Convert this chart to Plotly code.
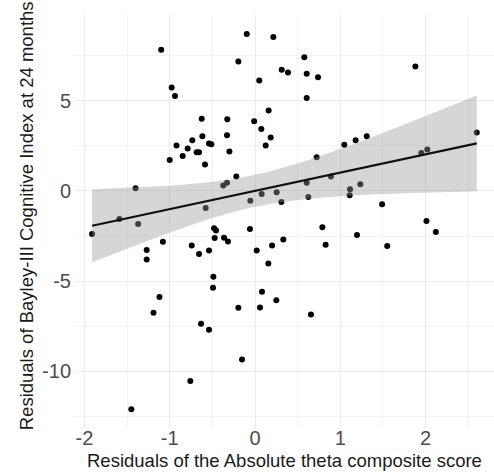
import numpy as np
import plotly.graph_objects as go

# Residuals of the Absolute theta composite score
x_vals = [-1.10, -0.977, -0.938, -0.92, -1.00, -1.40, -1.59, -1.37, -1.91, -1.08,
          -1.27, -1.27, -1.12, -1.19, -1.45, -0.097, 0.215, -0.195, 0.313, 0.05,
          -0.625, -0.325, 0.16, -0.01, 0.074, -0.617, -0.328, 0.184, 0.125, -0.735,
          -0.79, -0.848, -0.684, -0.656, -0.539, -0.512, -0.30, -0.586, -0.219, -0.372,
          -0.328, -0.578, -0.055, 0.078, 0.254, 0.309, -0.48, -0.457, -0.059, -0.742,
          -0.656, -0.539, -0.473, -0.363, -0.317, 0.02, 0.20, 0.332, 0.156, -0.488,
          -0.492, 0.082, 0.25, -0.195, 0.059, -0.633, -0.539, -0.152, -0.758, 0.578,
          0.387, 0.606, 0.739, 0.606, 1.047, 1.18, 1.31, 0.723, 0.606, 0.89,
          0.625, 1.114, 1.235, 1.11, 1.49, 0.79, 0.828, 1.196, 1.55, 0.656,
          1.88, 2.60, 1.95, 2.02, 2.01, 2.12]
# Residuals of Bayley-III Cognitive Index at 24 months
y_vals = [7.83, 5.74, 5.26, 2.52, 1.72, 0.15, -1.56, -1.83, -2.39, -2.82,
          -3.28, -3.80, -5.89, -6.76, -12.11, 8.70, 8.54, 7.18, 6.72, 6.13,
          4.0, 3.98, 4.46, 3.87, 3.44, 3.04, 3.09, 2.96, 2.52, 2.81,
          2.35, 1.94, 2.15, 2.15, 2.63, 2.59, 2.19, 1.46, 0.80, 0.30,
          0.46, -0.94, -0.54, -0.17, -0.07, -0.61, -2.07, -2.19, -2.11, -3.02,
          -3.50, -3.31, -2.61, -2.59, -2.81, -3.31, -3.02, -2.70, -4.02, -4.76,
          -5.37, -5.59, -6.07, -6.48, -6.46, -7.37, -7.70, -9.35, -10.54, 7.41,
          6.57, 6.5, 6.30, 5.15, 2.56, 2.81, 3.04, 1.87, 0.46, 0.80,
          -0.33, 0.09, 0.37, -0.24, -0.74, -2.02, -2.98, -2.44, -3.06, -6.85,
          6.91, 3.24, 2.11, 2.30, -1.67, -2.28]

x_ticks = [-2, -1, 0, 1, 2]
x_ticktext = ["-2", "-1", "0", "1", "2"]
y_ticks = [-10, -5, 0, 5]
y_ticktext = ["-10", "-5", "0", "5"]
x_title = "Residuals of the Absolute theta composite score"
y_title = "Residuals of Bayley-III Cognitive Index at 24 months"

# linear model with 95% confidence band (like geom_smooth(method="lm"))
x = np.array(x_vals)
y = np.array(y_vals)
n = len(x)
slope, intercept = np.polyfit(x, y, 1)
resid = y - (intercept + slope * x)
s = np.sqrt(np.sum(resid ** 2) / (n - 2))
sxx = np.sum((x - x.mean()) ** 2)
df = n - 2
z = 1.959964
tq = z + (z**3 + z) / (4 * df) + (5 * z**5 + 16 * z**3 + 3 * z) / (96 * df**2)
xs = np.linspace(x.min(), x.max(), 80)
ys = intercept + slope * xs
se = s * np.sqrt(1 / n + (xs - x.mean()) ** 2 / sxx)
lo = ys - tq * se
hi = ys + tq * se

fig = go.Figure()
fig.add_trace(go.Scatter(x=x, y=y, mode="markers",
                         marker=dict(color="black", size=6), showlegend=False))
fig.add_trace(go.Scatter(x=xs, y=lo, mode="lines", line=dict(width=0),
                         showlegend=False, hoverinfo="skip"))
fig.add_trace(go.Scatter(x=xs, y=hi, mode="lines", line=dict(width=0),
                         fill="tonexty", fillcolor="rgba(153,153,153,0.4)",
                         showlegend=False, hoverinfo="skip"))
fig.add_trace(go.Scatter(x=xs, y=ys, mode="lines",
                         line=dict(color="#111111", width=2.2), showlegend=False))

FONT = "Liberation Sans, Arial, sans-serif"
axis_common = dict(showline=False, zeroline=False, ticks="",
                   gridcolor="#ebebeb", gridwidth=1, automargin=False,
                   tickfont=dict(family=FONT, size=20, color="#4d4d4d"))

fig.update_layout(
    width=494, height=472,
    margin=dict(l=74, r=0, t=15, b=44),
    plot_bgcolor="white", paper_bgcolor="white",
    font=dict(family=FONT),
    xaxis=dict(range=[-2.122, 2.802], tickvals=x_ticks, ticktext=x_ticktext,
               ticklabelstandoff=-4,
               minor=dict(dtick=0.5, showgrid=True, gridcolor="#f3f3f3", gridwidth=1),
               **axis_common),
    yaxis=dict(range=[-13.15, 9.76], tickvals=y_ticks, ticktext=y_ticktext,
               ticklabelstandoff=2,
               minor=dict(dtick=2.5, showgrid=True, gridcolor="#f3f3f3", gridwidth=1),
               **axis_common),
    annotations=[
        dict(text=x_title, xref="paper", yref="paper", x=0.502, y=-0.078,
             xanchor="center", yanchor="middle", showarrow=False,
             font=dict(family=FONT, size=18.5, color="#1a1a1a")),
        dict(text=y_title, xref="paper", yref="paper", x=-0.114, y=0.513,
             xanchor="center", yanchor="middle", showarrow=False, textangle=-90,
             font=dict(family=FONT, size=18.5, color="#1a1a1a")),
    ],
)

fig.write_html("out.html", config={"displayModeBar": False},
               post_script="document.body.style.margin='0';")
